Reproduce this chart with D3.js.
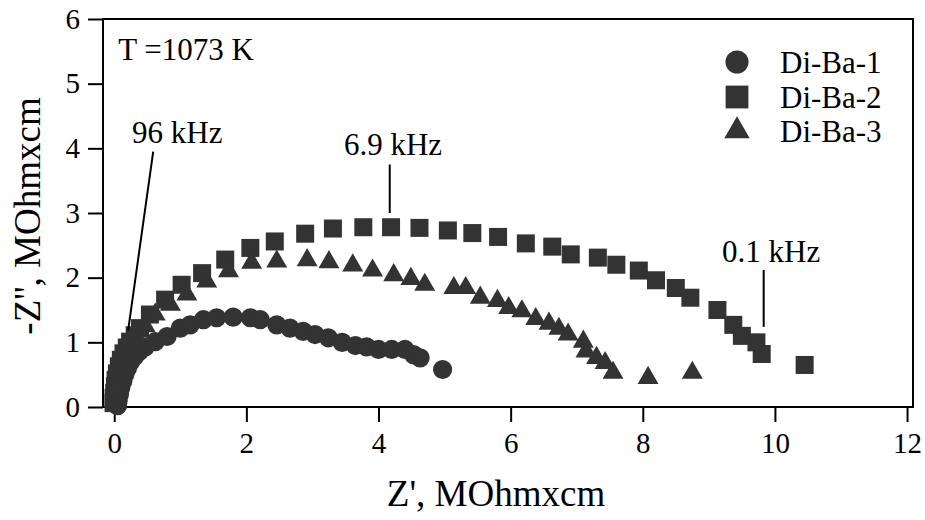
<!DOCTYPE html>
<html><head><meta charset="utf-8">
<script src="https://cdn.jsdelivr.net/npm/d3@7"></script>
<style>body{margin:0;background:#fff}svg{display:block}</style>
</head><body>
<script>
// Di-Ba-1 (circles)
const di1X = [0.05,0.06,0.08,0.10,0.13,0.16,0.20,0.25,0.31,0.38,0.47,0.62,0.80,1.00,1.15,1.35,1.55,1.80,2.06,2.21,2.46,2.66,2.86,3.04,3.24,3.45,3.65,3.82,4.00,4.20,4.40,4.53,4.63,4.97];
const di1Y = [0.02,0.10,0.20,0.30,0.40,0.50,0.60,0.70,0.78,0.86,0.93,1.01,1.09,1.22,1.27,1.35,1.38,1.39,1.38,1.35,1.27,1.22,1.17,1.12,1.07,1.00,0.95,0.93,0.89,0.89,0.89,0.81,0.76,0.58];
// Di-Ba-2 (squares)
const di2X = [-0.01,-0.01,0.00,0.01,0.02,0.04,0.07,0.10,0.14,0.19,0.24,0.31,0.39,0.54,0.77,1.02,1.33,1.68,2.06,2.43,2.89,3.31,3.77,4.19,4.62,5.05,5.42,5.81,6.23,6.63,6.91,7.32,7.60,7.94,8.20,8.50,8.72,9.13,9.37,9.50,9.72,9.80,10.45];
const di2Y = [0.06,0.14,0.22,0.32,0.42,0.52,0.63,0.73,0.83,0.92,1.01,1.11,1.22,1.43,1.66,1.89,2.07,2.28,2.46,2.56,2.68,2.76,2.78,2.78,2.77,2.73,2.69,2.63,2.53,2.48,2.36,2.31,2.20,2.11,1.96,1.84,1.69,1.50,1.27,1.10,1.00,0.82,0.65];
// Di-Ba-3 (triangles)
const di3X = [0.02,0.05,0.10,0.17,0.25,0.35,0.47,0.62,0.85,1.10,1.40,1.73,2.08,2.46,2.92,3.25,3.61,3.91,4.23,4.49,4.70,5.14,5.32,5.54,5.80,5.97,6.17,6.38,6.58,6.73,6.87,7.10,7.14,7.30,7.43,7.55,8.08,8.75];
const di3Y = [0.10,0.30,0.50,0.70,0.88,1.05,1.25,1.43,1.58,1.74,1.94,2.10,2.23,2.25,2.27,2.24,2.19,2.11,2.04,1.98,1.89,1.84,1.84,1.69,1.64,1.53,1.48,1.36,1.29,1.21,1.12,1.01,0.86,0.76,0.68,0.53,0.45,0.53];

const seriesNames = ["Di-Ba-1","Di-Ba-2","Di-Ba-3"];
const xTicks = [0,2,4,6,8,10,12];
const yTicks = [0,1,2,3,4,5,6];
const xTitle = "Z', MOhmxcm";
const yTitle = "-Z'', MOhmxcm";
const tempLabel = "T =1073 K";
const annoText = ["96 kHz","6.9 kHz","0.1 kHz"];
const annoTextX = [0.27,4.22,9.20];
const annoTextY = [4.08,3.90,2.25];
const annoAnchor = ["start","middle","start"];
const annoLineX1 = [0.59,4.17,9.83];
const annoLineY1 = [3.95,3.75,2.12];
const annoLineX2 = [0.21,4.17,9.83];
const annoLineY2 = [1.18,3.00,1.24];

const FONT = "Liberation Serif";
const W=925,H=520;
const L=103,R=913,T=19,B=407;
const svg=d3.select("body").append("svg").attr("width",W).attr("height",H)
  .attr("font-family",FONT);
const x=d3.scaleLinear().domain([-0.17,12.09]).range([L,R]);
const y=d3.scaleLinear().domain([0,6]).range([B,T]);
const col="#333333";

svg.append("rect").attr("x",L).attr("y",T).attr("width",R-L).attr("height",B-T)
  .attr("fill","none").attr("stroke","#000").attr("stroke-width",2);

const xa=svg.append("g").attr("transform",`translate(0,${B})`)
  .call(d3.axisBottom(x).tickValues(xTicks).tickSize(15).tickSizeOuter(0).tickPadding(10).tickFormat(d3.format("d")));
const ya=svg.append("g").attr("transform",`translate(${L},0)`)
  .call(d3.axisLeft(y).tickValues(yTicks).tickSize(15).tickSizeOuter(0).tickPadding(8).tickFormat(d3.format("d")));
[xa,ya].forEach(g=>{
  g.attr("font-family",FONT).attr("font-size",29);
  g.select(".domain").remove();
  g.selectAll(".tick line").attr("stroke","#000").attr("stroke-width",2);
  g.selectAll(".tick text").attr("font-family",FONT).attr("font-size",29).attr("fill","#000");
});
xa.selectAll(".tick text").attr("dy","0.71em");

function txt(sel){return sel.append("text").attr("font-family",FONT).attr("fill","#000");}
txt(svg).attr("x",(L+R)/2-12).attr("y",506).attr("text-anchor","middle")
  .attr("font-size",37).text(xTitle);
txt(svg).attr("transform",`translate(40,216) rotate(-90)`).attr("text-anchor","middle")
  .attr("font-size",37).text(yTitle);

const shapes=[d3.symbolCircle,d3.symbolSquare,d3.symbolTriangle];
const sizes=[290,324,190];
const xs=[di1X,di2X,di3X], ys=[di1Y,di2Y,di3Y];
[0,1,2].forEach(i=>{
  const pts=xs[i].map((v,j)=>[v,ys[i][j]]);
  svg.append("g").selectAll("path").data(pts).join("path")
    .attr("transform",d=>`translate(${x(d[0])},${y(d[1])})`)
    .attr("d",d3.symbol().type(shapes[i]).size(sizes[i]))
    .attr("fill",col);
});

txt(svg).attr("x",x(0.06)).attr("y",y(5.37)).attr("font-size",31).text(tempLabel);
annoText.forEach((t,i)=>{
  txt(svg).attr("x",x(annoTextX[i])).attr("y",y(annoTextY[i])).attr("text-anchor",annoAnchor[i])
    .attr("font-size",31).text(t);
  svg.append("line").attr("x1",x(annoLineX1[i])).attr("y1",y(annoLineY1[i]))
    .attr("x2",x(annoLineX2[i])).attr("y2",y(annoLineY2[i])).attr("stroke","#000").attr("stroke-width",2);
});

const legY=[62,97,131];
const legSizes=[420,520,280];
seriesNames.forEach((n,i)=>{
  svg.append("path").attr("transform",`translate(737,${legY[i]})`)
    .attr("d",d3.symbol().type(shapes[i]).size(legSizes[i])).attr("fill",col);
  txt(svg).attr("x",780).attr("y",legY[i]).attr("dy","0.35em").attr("font-size",31).text(n);
});
</script>
</body></html>
